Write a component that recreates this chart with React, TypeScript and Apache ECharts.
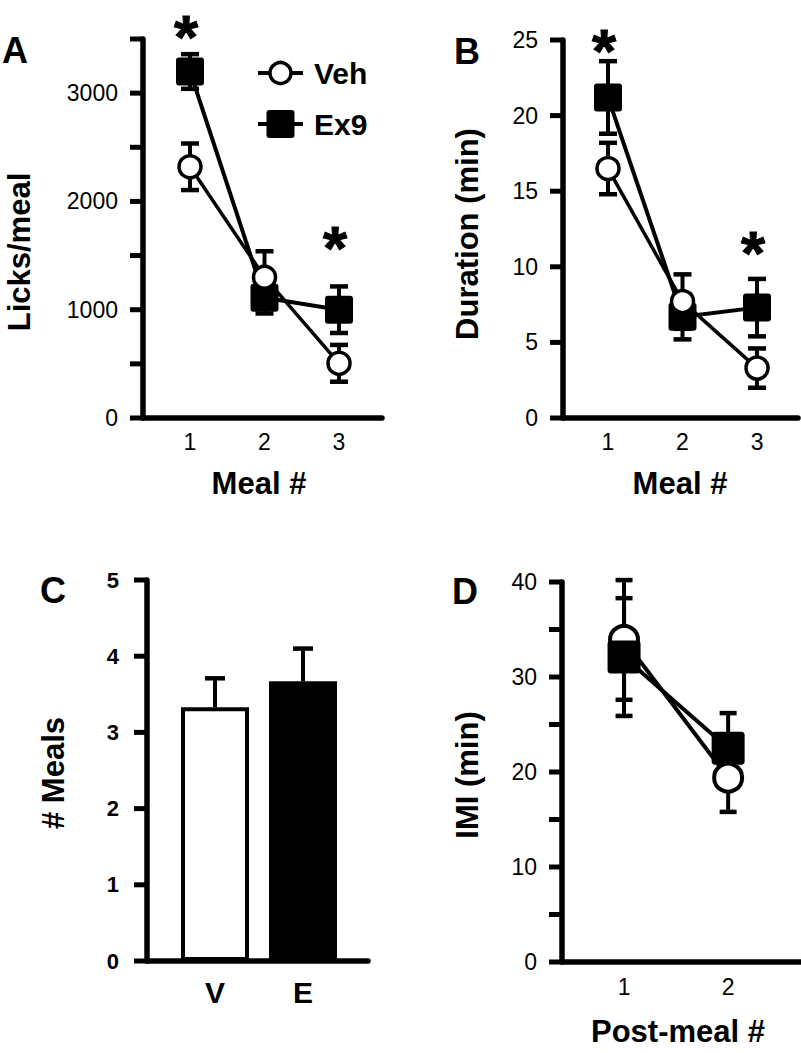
import React, { useEffect, useRef } from "react";
import * as echarts from "echarts";

// ---- Data ----
const meals = [1, 2, 3];
const licksVeh = [2320, 1300, 505];
const licksVehErr = [215, 240, 170];
const licksEx9 = [3200, 1110, 1000];
const licksEx9Err = [160, 145, 215];
const licksStars = [[1, 3656], [3, 1708]];
const licksTicks = [0, 500, 1000, 1500, 2000, 2500, 3000, 3500];

const durVeh = [16.5, 7.7, 3.3];
const durVehErr = [1.7, 1.8, 1.3];
const durEx9 = [21.2, 6.7, 7.3];
const durEx9Err = [2.4, 1.5, 1.9];
const durStars = [[1, 25.2], [3, 11.9]];
const durTicks = [0, 5, 10, 15, 20, 25];

const groups = ["V", "E"];
const groupX = [1, 2];
const mealCount = [3.33, 3.67];
const mealCountErr = [0.38, 0.43];
const mealTicks = [0, 1, 2, 3, 4, 5];

const postMeals = [1, 2];
const imiVeh = [33.9, 19.4];
const imiVehErr = [6.3, 3.6];
const imiEx9 = [32.1, 22.5];
const imiEx9Err = [6.2, 3.7];
const imiTicks = [0, 5, 10, 15, 20, 25, 30, 35, 40];

const legendNames = ["Veh", "Ex9"];

const FONT = '"Liberation Sans", Arial, Helvetica, sans-serif';
const SQUARE = "path://M3,0H25Q28,0 28,3V25Q28,28 25,28H3Q0,28 0,25V3Q0,0 3,0Z";

const X_RANGE: number[][] = [
  [0.369, 3.577],
  [0.396, 3.55],
  [0.227, 2.739],
  [0.404, 2.7],
];

function errSeries(idx: number, xs: number[], mean: number[], err: number[], capW: number, upOnly = false) {
  return {
    type: "custom",
    xAxisIndex: idx,
    yAxisIndex: idx,
    z: 1,
    silent: true,
    clip: false,
    encode: { x: 0, y: [1, 2] },
    data: xs.map((x, i) => [x, upOnly ? mean[i] : mean[i] - err[i], mean[i] + err[i]]),
    renderItem: (_p: any, api: any) => {
      const xv = api.value(0);
      const lo = api.coord([xv, api.value(1)]);
      const hi = api.coord([xv, api.value(2)]);
      const st = { stroke: "#000", lineWidth: 4 };
      const cap = { stroke: "#000", lineWidth: 4.5 };
      const children: any[] = [
        { type: "line", shape: { x1: lo[0], y1: lo[1], x2: hi[0], y2: hi[1] }, style: st },
        { type: "line", shape: { x1: hi[0] - capW / 2, y1: hi[1], x2: hi[0] + capW / 2, y2: hi[1] }, style: cap },
      ];
      if (!upOnly) {
        children.push({ type: "line", shape: { x1: lo[0] - capW / 2, y1: lo[1], x2: lo[0] + capW / 2, y2: lo[1] }, style: cap });
      }
      return { type: "group", children };
    },
  };
}

// Outward y-axis tick marks, placed through the axis scale
function tickSeries(idx: number, ticks: number[]) {
  return {
    type: "custom",
    xAxisIndex: idx,
    yAxisIndex: idx,
    z: 7,
    silent: true,
    clip: false,
    encode: { x: 0, y: 1 },
    data: ticks.map((t) => [X_RANGE[idx][0], t]),
    renderItem: (_p: any, api: any) => {
      const c = api.coord([api.value(0), api.value(1)]);
      return {
        type: "line",
        shape: { x1: c[0] - 13, y1: c[1], x2: c[0], y2: c[1] },
        style: { stroke: "#000", lineWidth: 5 },
      };
    },
  };
}

function vehSeries(idx: number, xs: number[], ys: number[], size: number, lw: number, z: number) {
  return {
    type: "line",
    name: "Veh",
    xAxisIndex: idx,
    yAxisIndex: idx,
    z,
    data: xs.map((x, i) => [x, ys[i]]),
    symbol: "circle",
    symbolSize: size,
    showSymbol: true,
    clip: false,
    itemStyle: { color: "#fff", borderColor: "#000", borderWidth: lw },
    lineStyle: { color: "#000", width: lw },
  };
}

function ex9Series(idx: number, xs: number[], ys: number[], size: number, lw: number, z: number) {
  return {
    type: "line",
    name: "Ex9",
    xAxisIndex: idx,
    yAxisIndex: idx,
    z,
    data: xs.map((x, i) => [x, ys[i]]),
    symbol: SQUARE,
    symbolSize: size,
    showSymbol: true,
    clip: false,
    itemStyle: { color: "#000", borderWidth: 0 },
    lineStyle: { color: "#000", width: lw },
  };
}

function starSeries(idx: number, pts: number[][]) {
  return {
    type: "custom",
    xAxisIndex: idx,
    yAxisIndex: idx,
    z: 6,
    silent: true,
    clip: false,
    encode: { x: 0, y: 1 },
    data: pts,
    renderItem: (_p: any, api: any) => {
      const c = api.coord([api.value(0), api.value(1)]);
      return {
        type: "text",
        x: c[0] - 4,
        y: c[1] + 14,
        style: {
          text: "*",
          fill: "#000",
          stroke: "#000",
          lineWidth: 1,
          fontSize: 62,
          fontWeight: "bold",
          fontFamily: FONT,
          align: "center",
          verticalAlign: "middle",
        },
      };
    },
  };
}

function yAxis(idx: number, max: number, interval: number, labelEvery: number, bold = false, margin = 25) {
  return {
    type: "value",
    gridIndex: idx,
    min: 0,
    max,
    interval,
    axisLine: { show: true, onZero: false, lineStyle: { color: "#000", width: 5.5, opacity: 1 } },
    axisTick: { show: false },
    splitLine: { show: false },
    axisLabel: {
      margin,
      fontSize: bold ? 22 : 23,
      fontWeight: bold ? "bold" : "normal",
      fontFamily: FONT,
      color: "#000",
      formatter: (v: number) => (Math.abs(v % labelEvery) < 1e-9 ? String(v) : ""),
    },
  };
}

function xAxis(idx: number, values: number[], names: string[], bold = false, margin = 12) {
  return {
    type: "value",
    gridIndex: idx,
    min: X_RANGE[idx][0],
    max: X_RANGE[idx][1],
    axisLine: { show: true, onZero: false, lineStyle: { color: "#000", width: 5.5, opacity: 1 } },
    axisTick: { show: false },
    splitLine: { show: false },
    axisLabel: {
      customValues: values,
      margin,
      fontSize: bold ? 30 : 23,
      fontWeight: bold ? "bold" : "normal",
      fontFamily: FONT,
      color: "#000",
      formatter: (v: number) => {
        const i = values.findIndex((x) => Math.abs(x - v) < 1e-6);
        return i >= 0 ? names[i] : "";
      },
    },
  };
}

function txt(text: string, x: number, y: number, size: number, rot = 0, align = "center") {
  return {
    type: "text",
    x,
    y,
    rotation: rot,
    silent: true,
    style: {
      text,
      fontSize: size,
      fontWeight: "bold",
      fontFamily: FONT,
      fill: "#000",
      align,
      verticalAlign: "middle",
      textAlign: align,
      textVerticalAlign: "middle",
    },
  };
}

function legendGraphic() {
  const x0 = 258;
  const x1 = 303;
  const cx = (x0 + x1) / 2;
  const ys = [73, 124];
  return {
    type: "group",
    silent: true,
    children: [
      { type: "line", shape: { x1: x0, y1: ys[0], x2: x1, y2: ys[0] }, style: { stroke: "#000", lineWidth: 4 } },
      { type: "circle", shape: { cx, cy: ys[0], r: 10.5 }, style: { fill: "#fff", stroke: "#000", lineWidth: 3.5 } },
      txt(legendNames[0], 314, ys[0], 30, 0, "left"),
      { type: "line", shape: { x1: x0, y1: ys[1], x2: x1, y2: ys[1] }, style: { stroke: "#000", lineWidth: 4 } },
      { type: "rect", shape: { x: cx - 14, y: ys[1] - 14, width: 28, height: 28, r: 3 }, style: { fill: "#000" } },
      txt(legendNames[1], 314, ys[1], 30, 0, "left"),
    ],
  };
}

export default function App() {
  const ref = useRef<HTMLDivElement>(null);
  useEffect(() => {
    if (!ref.current) return;
    const chart = echarts.init(ref.current, null, { renderer: "svg" });
    const mealNames = meals.map(String);
    const option: any = {
      animation: false,
      backgroundColor: "#fff",
      textStyle: { fontFamily: FONT },
      grid: [
        { left: 143, top: 39, width: 239, height: 379, outerBoundsMode: "none" },
        { left: 563, top: 40, width: 235, height: 378, outerBoundsMode: "none" },
        { left: 147, top: 580, width: 221, height: 381, outerBoundsMode: "none" },
        { left: 562, top: 582, width: 239, height: 380, outerBoundsMode: "none" },
      ],
      xAxis: [
        xAxis(0, meals, mealNames),
        xAxis(1, meals, mealNames),
        xAxis(2, groupX, groups, true, 16),
        xAxis(3, postMeals, postMeals.map(String), false, 13),
      ],
      yAxis: [
        yAxis(0, 3500, 500, 1000),
        yAxis(1, 25, 5, 5),
        yAxis(2, 5, 1, 1, true, 28),
        yAxis(3, 40, 5, 10),
      ],
      series: [
        tickSeries(0, licksTicks),
        tickSeries(1, durTicks),
        tickSeries(2, mealTicks),
        tickSeries(3, imiTicks),
        // Panel A
        errSeries(0, meals, licksEx9, licksEx9Err, 18),
        errSeries(0, meals, licksVeh, licksVehErr, 18),
        ex9Series(0, meals, licksEx9, 28, 4, 3),
        vehSeries(0, meals, licksVeh, 22, 3.5, 4),
        starSeries(0, licksStars),
        // Panel B
        errSeries(1, meals, durEx9, durEx9Err, 18),
        errSeries(1, meals, durVeh, durVehErr, 18),
        ex9Series(1, meals, durEx9, 28, 4, 3),
        vehSeries(1, meals, durVeh, 22, 3.5, 4),
        starSeries(1, durStars),
        // Panel C
        {
          type: "bar",
          xAxisIndex: 2,
          yAxisIndex: 2,
          barWidth: 68,
          z: 2,
          data: groupX.map((x, i) => ({
            value: [x, mealCount[i]],
            itemStyle: i === 0
              ? { color: "#fff", borderColor: "#000", borderWidth: 4 }
              : { color: "#000", borderColor: "#000", borderWidth: 4 },
          })),
        },
        errSeries(2, groupX, mealCount, mealCountErr, 20, true),
        // Panel D
        errSeries(3, postMeals, imiVeh, imiVehErr, 17),
        errSeries(3, postMeals, imiEx9, imiEx9Err, 17),
        vehSeries(3, postMeals, imiVeh, 28, 4, 3),
        ex9Series(3, postMeals, imiEx9, 33, 4, 4),
      ],
      graphic: [
        legendGraphic(),
        txt("A", 15, 50, 36),
        txt("B", 467, 51, 36),
        txt("C", 53, 590, 36),
        txt("D", 465, 591, 36),
        txt("Licks/meal", 19, 252, 31, Math.PI / 2),
        txt("Duration (min)", 467, 234, 31, Math.PI / 2),
        txt("# Meals", 53, 773, 31, Math.PI / 2),
        txt("IMI (min)", 467, 775, 31, Math.PI / 2),
        txt("Meal #", 259, 483, 31),
        txt("Meal #", 680, 483, 31),
        txt("Post-meal #", 678, 1031, 31),
      ],
    };
    chart.setOption(option);
    return () => chart.dispose();
  }, []);
  return (
    <div
      ref={ref}
      style={{ position: "absolute", left: 0, top: 0, width: 801, height: 1053, background: "#fff" }}
    />
  );
}
